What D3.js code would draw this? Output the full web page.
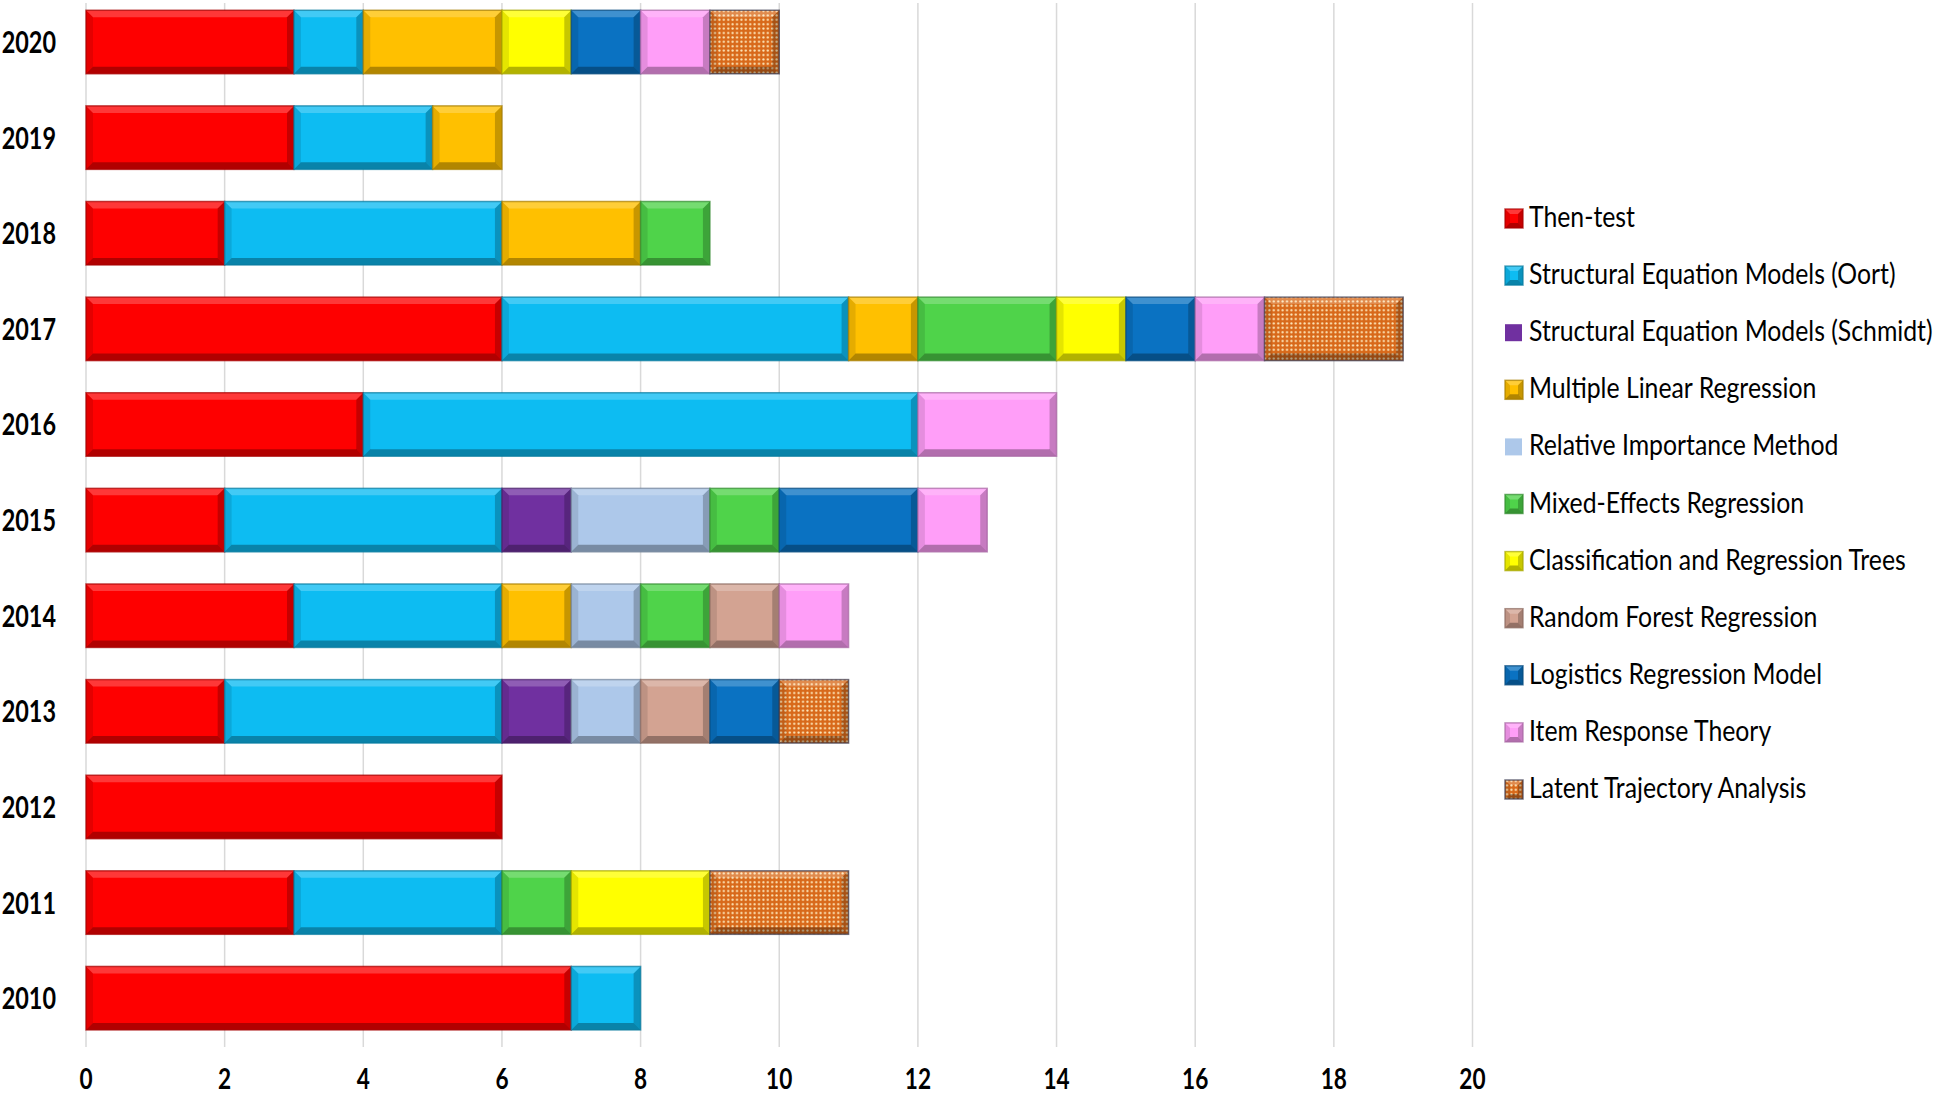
<!DOCTYPE html>
<html>
<head>
<meta charset="utf-8">
<script src="https://cdn.jsdelivr.net/npm/d3@7"></script>
<style>
  body { margin: 0; background: #fff; }
  svg { display: block; }
</style>
</head>
<body>
<svg width="1960" height="1099"></svg>
<script>
var years = ['2020', '2019', '2018', '2017', '2016', '2015', '2014', '2013', '2012', '2011', '2010'];

var thenTest = [3, 3, 2, 6, 4, 2, 3, 2, 6, 3, 7],
    semOort = [1, 2, 4, 5, 8, 4, 3, 4, 0, 3, 1],
    semSchmidt = [0, 0, 0, 0, 0, 1, 0, 1, 0, 0, 0],
    multipleLinear = [2, 1, 2, 1, 0, 0, 1, 0, 0, 0, 0],
    relativeImportance = [0, 0, 0, 0, 0, 2, 1, 1, 0, 0, 0],
    mixedEffects = [0, 0, 1, 2, 0, 1, 1, 0, 0, 1, 0],
    cart = [1, 0, 0, 1, 0, 0, 0, 0, 0, 2, 0],
    randomForest = [0, 0, 0, 0, 0, 0, 1, 1, 0, 0, 0],
    logistic = [1, 0, 0, 1, 0, 2, 0, 1, 0, 0, 0],
    itemResponse = [1, 0, 0, 1, 2, 1, 1, 0, 0, 0, 0],
    latentTrajectory = [1, 0, 0, 2, 0, 0, 0, 1, 0, 2, 0];

var seriesNames = ['Then-test', 'Structural Equation Models (Oort)', 'Structural Equation Models (Schmidt)',
    'Multiple Linear Regression', 'Relative Importance Method', 'Mixed-Effects Regression',
    'Classification and Regression Trees', 'Random Forest Regression', 'Logistics Regression Model',
    'Item Response Theory', 'Latent Trajectory Analysis'];

var seriesValues = [thenTest, semOort, semSchmidt, multipleLinear, relativeImportance, mixedEffects,
    cart, randomForest, logistic, itemResponse, latentTrajectory];

var ticks = [0, 2, 4, 6, 8, 10, 12, 14, 16, 18, 20];

var colors = ['#fe0000', '#0dbcf2', '#7030a0', '#ffc000', '#adc8ea', '#4fd34a',
    '#ffff00', '#d3a392', '#0a72c2', '#ff9ef8', 'url(#dots)'];

var svg = d3.select('svg');

// table for the stack
var table = years.map(function (y, i) {
    var row = { year: y };
    seriesNames.forEach(function (n, j) { row[n] = seriesValues[j][i]; });
    return row;
});

var stacked = d3.stack().keys(seriesNames)(table);

var x = d3.scaleLinear().domain([0, 20]).range([86, 1472.5]);
var y = d3.scaleBand().domain(years).range([-5.8, 1046]).paddingInner(0.336).paddingOuter(0.168);

// dotted pattern
var defs = svg.append('defs');
var pat = defs.append('pattern')
    .attr('id', 'dots')
    .attr('patternUnits', 'userSpaceOnUse')
    .attr('width', 4.4)
    .attr('height', 4.4);
pat.append('rect').attr('width', 4.4).attr('height', 4.4).attr('fill', '#d8691a');
pat.append('circle').attr('cx', 2.2).attr('cy', 2.2).attr('r', 1.1).attr('fill', '#ffecc0');

// gridlines
svg.append('g')
    .selectAll('line')
    .data(ticks)
    .enter().append('line')
    .attr('x1', function (d) { return x(d); })
    .attr('x2', function (d) { return x(d); })
    .attr('y1', 3)
    .attr('y2', 1047)
    .attr('stroke', '#d9d9d9')
    .attr('stroke-width', 1.5);

// x axis labels
var xAxis = svg.append('g')
    .attr('transform', 'translate(0,1089)')
    .call(d3.axisBottom(x).tickValues(ticks).tickSize(0).tickPadding(0));
xAxis.select('.domain').remove();
xAxis.selectAll('.tick').attr('transform', null);
xAxis.selectAll('text')
    .attr('dy', 0)
    .attr('y', 0)
    .attr('fill', '#000')
    .style('font-family', 'Lato, sans-serif')
    .style('font-weight', 'bold')
    .style('font-size', '29px')
    .attr('transform', 'scale(0.78,1)')
    .attr('x', function (d) { return x(d) / 0.78; });

// year labels
svg.append('g')
    .selectAll('text')
    .data(years)
    .enter().append('text')
    .attr('transform', function (d) { return 'translate(56,' + (y(d) + y.bandwidth() / 2 + 11) + ') scale(0.78,1)'; })
    .attr('text-anchor', 'end')
    .style('font-family', 'Lato, sans-serif')
    .style('font-weight', 'bold')
    .style('font-size', '30px')
    .attr('fill', '#000')
    .text(function (d) { return d; });

// bevelled bar piece
function bevel(g, x0, y0, w, h, b, fill, edge) {
    g.append('rect')
        .attr('x', x0).attr('y', y0).attr('width', w).attr('height', h)
        .attr('fill', fill);
    var x1 = x0 + w, y1 = y0 + h;
    var faces = [
        { p: [[x0, y0], [x1, y0], [x1 - b, y0 + b], [x0 + b, y0 + b]], c: '#fff', o: 0.22 },
        { p: [[x0, y1], [x1, y1], [x1 - b, y1 - b], [x0 + b, y1 - b]], c: '#000', o: 0.3 },
        { p: [[x0, y0], [x0 + b, y0 + b], [x0 + b, y1 - b], [x0, y1]], c: '#000', o: 0.1 },
        { p: [[x1, y0], [x1 - b, y0 + b], [x1 - b, y1 - b], [x1, y1]], c: '#000', o: 0.22 }
    ];
    faces.forEach(function (f) {
        g.append('polygon')
            .attr('points', f.p.join(' '))
            .attr('fill', f.c)
            .attr('fill-opacity', f.o);
    });
    g.append('rect')
        .attr('x', x0).attr('y', y0).attr('width', w).attr('height', h)
        .attr('fill', 'none')
        .attr('stroke', edge)
        .attr('stroke-opacity', 0.7)
        .attr('stroke-width', 1.5);
}

function edgeColor(c, i) {
    if (i === 10) return '#3a3a50';
    return d3.color(c).darker(1.2).formatHex();
}

// bars
var bars = svg.append('g');
stacked.forEach(function (layer, i) {
    layer.forEach(function (d) {
        if (d[1] - d[0] <= 0) return;
        var x0 = x(d[0]), w = x(d[1]) - x(d[0]);
        bevel(bars, x0, y(d.data.year), w, y.bandwidth(), 7, colors[i], edgeColor(colors[i], i));
    });
});

// legend
var legend = svg.append('g');
seriesNames.forEach(function (n, i) {
    var base = 227 + i * 57.1;
    var flat = (i === 2 || i === 4);
    if (flat) {
        legend.append('rect')
            .attr('x', 1505).attr('y', base - 17).attr('width', 17).attr('height', 17)
            .attr('fill', colors[i]);
    } else {
        bevel(legend, 1505, base - 18, 18, 19, 5, colors[i], edgeColor(colors[i], i));
    }
    legend.append('text')
        .attr('transform', 'translate(1529,' + base + ') scale(0.87,1)')
        .style('font-family', 'Lato, sans-serif')
        .style('font-size', '28.5px')
        .attr('fill', '#000')
        .text(n);
});
</script>
</body>
</html>
